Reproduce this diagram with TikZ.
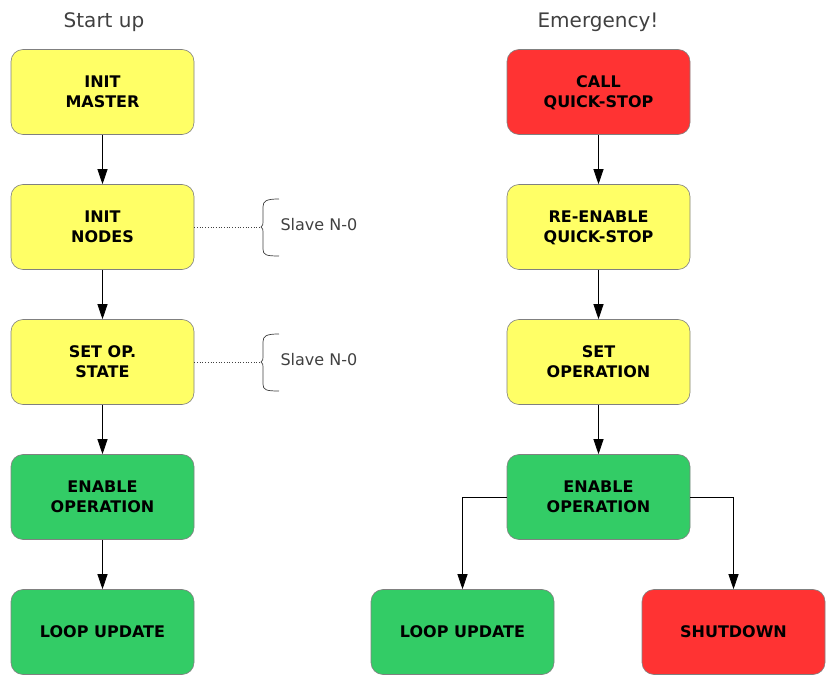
\documentclass[tikz,border=0pt]{standalone}
\usepackage{fontspec}
\setmainfont{DejaVu Sans}
\usetikzlibrary{arrows.meta}
\definecolor{boxyellow}{HTML}{FFFF66}
\definecolor{boxred}{HTML}{FF3333}
\definecolor{boxgreen}{HTML}{33CC66}
\definecolor{textgrey}{HTML}{404040}
\begin{document}
\begin{tikzpicture}[x=1pt,y=-1pt,
    stepbox/.style={draw=gray,line width=0.6pt,rounded corners=12pt,
      minimum width=183pt,minimum height=85pt,align=center,
      text depth=-1.5pt,
      font=\fontsize{16}{20}\selectfont\bfseries},
    title/.style={text=textgrey,font=\fontsize{20}{24}\selectfont},
    note/.style={text=textgrey,anchor=west,font=\fontsize{16}{20}\selectfont},
    flow/.style={-{Triangle[length=15pt,width=10pt]},line width=0.8pt}]
  \useasboundingbox (0,0) rectangle (836,687);
  \draw
    (104,22) node[title] (starttitle){Start up}
    (598,22) node[title] (emertitle){Emergency!}
    (102.5,92) node[stepbox,fill=boxyellow] (master){INIT\\MASTER}
    (102.5,227) node[stepbox,fill=boxyellow] (nodes){INIT\\NODES}
    (102.5,362) node[stepbox,fill=boxyellow] (opstate){SET OP.\\STATE}
    (102.5,497) node[stepbox,fill=boxgreen] (enable){ENABLE\\OPERATION}
    (102.5,632) node[stepbox,fill=boxgreen] (loop){LOOP UPDATE}
    (598.5,92) node[stepbox,fill=boxred] (quickstop){CALL\\QUICK-STOP}
    (598.5,227) node[stepbox,fill=boxyellow] (reenable){RE-ENABLE\\QUICK-STOP}
    (598.5,362) node[stepbox,fill=boxyellow] (setop){SET\\OPERATION}
    (598.5,497) node[stepbox,fill=boxgreen] (enableop){ENABLE\\OPERATION}
    (462.5,632) node[stepbox,fill=boxgreen] (loopupd){LOOP UPDATE}
    (733.5,632) node[stepbox,fill=boxred] (shutdown){SHUTDOWN};
  \begin{scope}[flow]
    \draw (master) to (nodes);
    \draw (nodes) to (opstate);
    \draw (opstate) to (enable);
    \draw (enable) to (loop);
    \draw (quickstop) to (reenable);
    \draw (reenable) to (setop);
    \draw (setop) to (enableop);
    \draw (enableop.west) -| (loopupd.north);
    \draw (enableop.east) -| (shutdown.north);
  \end{scope}
  % slave braces
  \foreach \name/\y in {nodes/227,opstate/362} {
    \coordinate (brace-\name) at (261,\y);
    \draw[textgrey,dotted,line width=0.7pt] (\name.east) -- (brace-\name);
    \draw[textgrey,line width=0.7pt] (279,\y-28) .. controls (266,\y-28) and (263,\y-26) .. (263,\y-20)
      -- (263,\y-5) .. controls (263,\y-2) .. (brace-\name) .. controls (263,\y+2) .. (263,\y+5)
      -- (263,\y+22) .. controls (263,\y+28) and (266,\y+29) .. (279,\y+29);
    \node[note] (slave-\name) at (277,\y-2) {Slave N-0};
  }
\end{tikzpicture}
\end{document}
